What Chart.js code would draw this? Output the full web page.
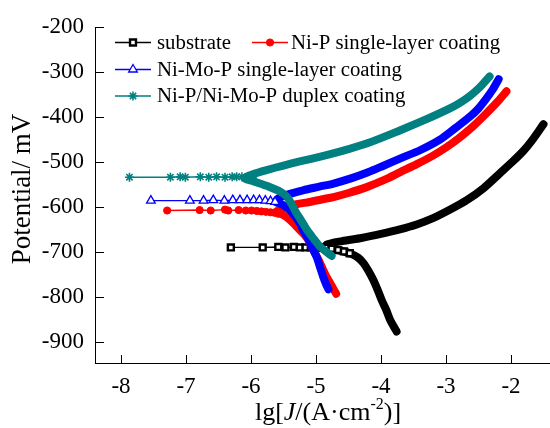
<!DOCTYPE html>
<html>
<head>
<meta charset="utf-8">
<title>Tafel polarization curves</title>
<script src="https://cdn.jsdelivr.net/npm/chart.js@4.4.1/dist/chart.umd.min.js"></script>
<style>
  html, body { margin: 0; padding: 0; background: #fff; }
  #wrap { width: 550px; height: 428px; }
</style>
</head>
<body>
<div id="wrap"><canvas id="tafelChart" width="550" height="428"></canvas></div>
<script>
const FONT = "'Liberation Serif', 'Times New Roman', serif";

const X_TICKS = [-8, -7, -6, -5, -4, -3, -2];
const Y_TICKS = [-200, -300, -400, -500, -600, -700, -800, -900];
const SERIES_NAMES = ['substrate', 'Ni-P single-layer coating', 'Ni-Mo-P single-layer coating', 'Ni-P/Ni-Mo-P duplex coating'];

// substrate: sparse points near Ecorr, then the dense cathodic -> anodic branch
const substrateFlatJ = [-6.31, -5.82, -5.58, -5.47, -5.34, -5.25, -5.16, -5.08, -5.0, -4.92, -4.85, -4.76, -4.66, -4.57, -4.48];
const substrateFlatE = [-690, -690, -689, -690, -689, -690, -690, -690, -691, -691, -691, -693, -696, -699, -703];
const substrateBranchJ = [-3.76, -3.80, -3.86, -3.92, -3.99, -4.05, -4.12, -4.19, -4.27, -4.35, -4.45, -4.6, -4.75, -4.85,
  -4.84, -4.6, -4.3, -4.0, -3.71, -3.45, -3.2, -2.95, -2.68, -2.42, -2.17, -1.98, -1.8, -1.65, -1.5];
const substrateBranchE = [-877, -867, -851, -829, -807, -785, -762, -743, -725, -713, -705, -698, -694, -691,
  -684, -676, -669, -660, -650, -639, -625, -607, -585, -558, -525, -500, -474, -447, -416];

// Ni-P single layer
const niPFlatJ = [-7.29, -6.79, -6.62, -6.40, -6.35, -6.19, -6.08, -5.99, -5.91, -5.84, -5.77, -5.70, -5.64, -5.58];
const niPFlatE = [-608, -607, -608, -606, -608, -607, -608, -608, -609, -610, -611, -612, -613, -615];
const niPBranchJ = [-4.69, -4.73, -4.78, -4.84, -4.89, -4.96, -5.04, -5.1, -5.17, -5.25, -5.33, -5.40, -5.48, -5.56, -5.62,
  -5.56, -5.45, -5.3, -5.1, -4.9, -4.73, -4.5, -4.22, -3.95, -3.71, -3.45, -3.2, -3.0, -2.8, -2.6, -2.4, -2.2, -2.07];
const niPBranchE = [-793, -783, -770, -755, -740, -718, -696, -678, -663, -651, -639, -629, -620, -614, -612,
  -606, -600, -594, -589, -583, -578, -569, -556, -540, -523, -505, -486, -468, -447, -423, -395, -365, -343];

// Ni-Mo-P single layer
const niMoPFlatJ = [-7.54, -6.94, -6.73, -6.58, -6.41, -6.28, -6.17, -6.06, -5.96, -5.87, -5.78, -5.70, -5.63];
const niMoPFlatE = [-586, -586, -586, -585, -586, -585, -585, -585, -585, -585, -586, -587, -589];
const niMoPBranchJ = [-4.81, -4.85, -4.89, -4.94, -4.99, -5.04, -5.09, -5.14, -5.2, -5.25, -5.32, -5.4, -5.48, -5.56, -5.62,
  -5.58, -5.45, -5.2, -4.95, -4.73, -4.45, -4.2, -3.97, -3.7, -3.40, -3.1, -2.85, -2.63, -2.5, -2.4, -2.29, -2.19];
const niMoPBranchE = [-783, -770, -755, -733, -711, -696, -680, -666, -651, -636, -621, -607, -598, -592, -589,
  -581, -573, -563, -555, -548, -536, -523, -509, -492, -474, -451, -424, -399, -381, -363, -341, -316];

// Ni-P/Ni-Mo-P duplex
const duplexFlatJ = [-7.87, -7.24, -7.09, -7.01, -6.78, -6.65, -6.53, -6.40, -6.29, -6.22, -6.14, -6.06, -5.98];
const duplexFlatE = [-534, -534, -533, -534, -533, -534, -533, -534, -533, -533, -533, -534, -535];
const duplexBranchJ = [-4.76, -4.85, -4.94, -5.04, -5.14, -5.22, -5.30, -5.37, -5.45, -5.55, -5.66, -5.76, -5.86, -5.98, -6.1,
  -6.02, -5.9, -5.76, -5.5, -5.25, -4.9, -4.58, -4.2, -3.71, -3.3, -2.94, -2.78, -2.63, -2.48, -2.33];
const duplexBranchE = [-709, -699, -688, -670, -651, -632, -614, -595, -577, -566, -559, -553, -548, -542, -537,
  -530, -524, -518, -508, -499, -487, -475, -458, -430, -405, -381, -368, -353, -334, -310];

const pts = (js, es) => js.map((j, i) => ({ x: j, y: es[i] }));

const STYLES = [
  { color: '#000000', pointStyle: 'rect', radius: 4.2, fill: '#ffffff', bw: 2.4 },
  { color: '#ff0000', pointStyle: 'circle', radius: 3.6, fill: '#ff0000', bw: 1 },
  { color: '#0000ff', pointStyle: 'triangle', radius: 5, fill: '#ffffff', bw: 1.3 },
  { color: '#008080', pointStyle: 'star', radius: 4.5, fill: '#008080', bw: 1.6 }
];

const SERIES = [
  [substrateFlatJ, substrateFlatE, substrateBranchJ, substrateBranchE],
  [niPFlatJ, niPFlatE, niPBranchJ, niPBranchE],
  [niMoPFlatJ, niMoPFlatE, niMoPBranchJ, niMoPBranchE],
  [duplexFlatJ, duplexFlatE, duplexBranchJ, duplexBranchE]
];

const datasets = [];
SERIES.forEach((s, i) => {
  const st = STYLES[i];
  const base = (3 - i) * 2; // later series are drawn on top
  datasets.push({
    label: SERIES_NAMES[i] + ' (branch)',
    data: pts(s[2], s[3]),
    showLine: true,
    borderColor: st.color,
    borderWidth: 8,
    borderCapStyle: 'round',
    borderJoinStyle: 'round',
    tension: 0.3,
    pointRadius: 0,
    order: base + 1
  });
  datasets.push({
    label: SERIES_NAMES[i],
    data: pts(s[0], s[1]),
    showLine: true,
    borderColor: st.color,
    borderWidth: 1.4,
    pointStyle: st.pointStyle,
    pointRadius: st.radius,
    pointBackgroundColor: st.fill,
    pointBorderColor: st.color,
    pointBorderWidth: st.bw,
    order: base
  });
});

// inward tick marks on both axes
const inwardTicks = {
  id: 'inwardTicks',
  afterDraw(chart) {
    const { ctx, chartArea, scales } = chart;
    ctx.save();
    ctx.strokeStyle = '#000';
    ctx.lineWidth = 1;
    ctx.beginPath();
    scales.x.ticks.forEach(t => {
      const px = Math.round(scales.x.getPixelForValue(t.value)) + 0.5;
      ctx.moveTo(px, chartArea.bottom);
      ctx.lineTo(px, chartArea.bottom - 8);
    });
    scales.y.ticks.forEach(t => {
      const py = Math.round(scales.y.getPixelForValue(t.value)) + 0.5;
      ctx.moveTo(chartArea.left, py);
      ctx.lineTo(chartArea.left + 9, py);
    });
    ctx.stroke();
    ctx.restore();
  }
};

// axis titles (x title has italic J and a superscript)
const axisTitles = {
  id: 'axisTitles',
  afterDraw(chart) {
    const { ctx } = chart;
    ctx.save();
    ctx.fillStyle = '#000';
    ctx.textBaseline = 'alphabetic';

    ctx.save();
    ctx.translate(30, 189);
    ctx.rotate(-Math.PI / 2);
    ctx.textAlign = 'center';
    ctx.font = `27px ${FONT}`;
    ctx.fillText('Potential/ mV', 0, 0);
    ctx.restore();

    const parts = [
      { t: 'lg[', f: `26px ${FONT}`, dy: 0 },
      { t: 'J', f: `italic 26px ${FONT}`, dy: 0 },
      { t: '/(A\u00B7cm', f: `26px ${FONT}`, dy: 0 },
      { t: '-2', f: `16px ${FONT}`, dy: -11 },
      { t: ')]', f: `26px ${FONT}`, dy: 0 }
    ];
    let total = 0;
    parts.forEach(p => { ctx.font = p.f; p.w = ctx.measureText(p.t).width; total += p.w; });
    let x = 328 - total / 2;
    ctx.textAlign = 'left';
    parts.forEach(p => {
      ctx.font = p.f;
      ctx.fillText(p.t, x, 420 + p.dy);
      x += p.w;
    });
    ctx.restore();
  }
};

// legend laid out like the original (two entries on the first row)
const legendBox = {
  id: 'legendBox',
  afterDraw(chart) {
    const { ctx } = chart;
    const slots = [[115, 42.5, 157], [252, 42.5, 291], [115, 69.5, 157], [115, 96, 157]];
    ctx.save();
    ctx.font = `20.8px ${FONT}`;
    ctx.textBaseline = 'middle';
    ctx.textAlign = 'left';
    SERIES_NAMES.forEach((name, i) => {
      const st = STYLES[i];
      const [x0, y, tx] = slots[i];
      ctx.strokeStyle = st.color;
      ctx.lineWidth = 1.4;
      ctx.beginPath();
      ctx.moveTo(x0, y);
      ctx.lineTo(x0 + 36, y);
      ctx.stroke();
      ctx.fillStyle = st.fill;
      ctx.strokeStyle = st.color;
      ctx.lineWidth = st.bw;
      Chart.helpers.drawPoint(ctx, { pointStyle: st.pointStyle, radius: st.radius, borderWidth: st.bw, rotation: 0 }, x0 + 18, y);
      ctx.fillStyle = '#000';
      ctx.fillText(name, tx, y + 1);
    });
    ctx.restore();
  }
};

new Chart(document.getElementById('tafelChart'), {
  type: 'scatter',
  data: { datasets },
  options: {
    responsive: false,
    animation: false,
    layout: { autoPadding: false, padding: { top: 27, right: 0, left: 0, bottom: 0 } },
    plugins: { legend: { display: false }, tooltip: { enabled: false } },
    scales: {
      x: {
        type: 'linear',
        min: -8.4,
        max: -1.4,
        afterBuildTicks: s => { s.ticks = X_TICKS.map(v => ({ value: v })); },
        afterFit: s => { s.height = 65; s.paddingRight = 0; s.paddingLeft = 0; },
        grid: { display: false, drawTicks: false },
        border: { display: true, color: '#000', width: 1 },
        ticks: { color: '#000', font: { family: FONT, size: 23 }, padding: 10, maxRotation: 0 }
      },
      y: {
        type: 'linear',
        min: -947,
        max: -200,
        afterBuildTicks: s => { s.ticks = Y_TICKS.map(v => ({ value: v })); },
        afterFit: s => { s.width = 95; },
        grid: { display: false, drawTicks: false },
        border: { display: true, color: '#000', width: 1 },
        ticks: { color: '#000', font: { family: FONT, size: 23 }, padding: 11 }
      }
    }
  },
  plugins: [inwardTicks, axisTitles, legendBox]
});
</script>
</body>
</html>
